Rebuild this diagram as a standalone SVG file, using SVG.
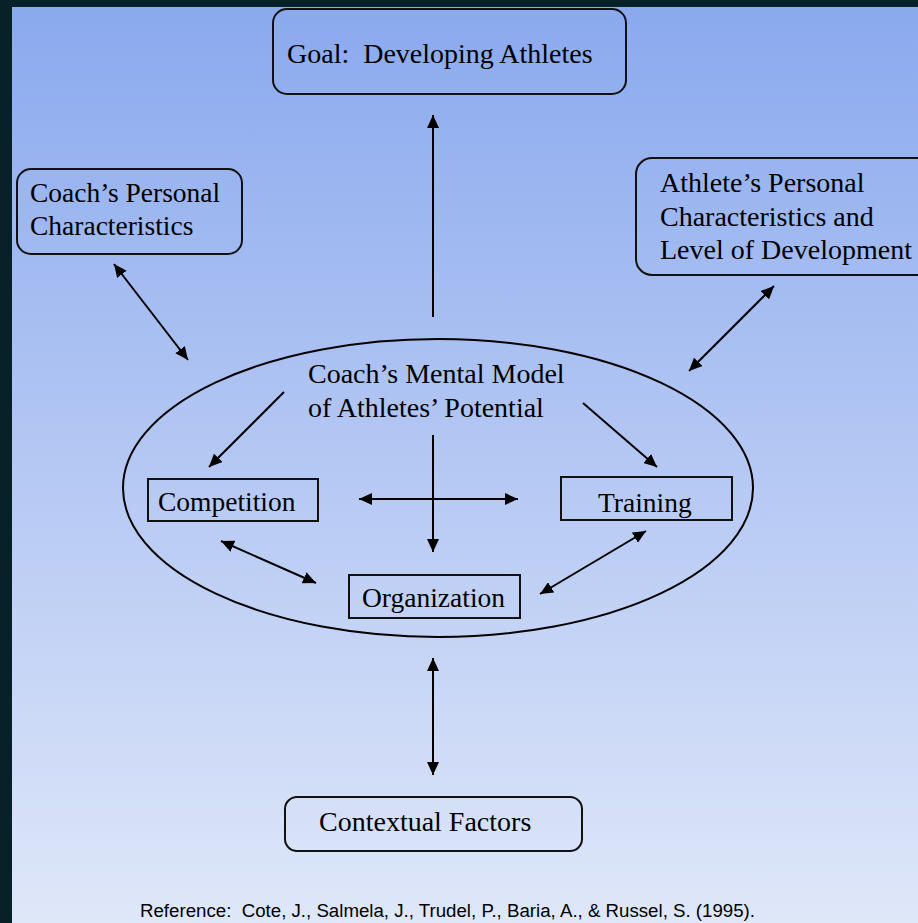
<svg xmlns="http://www.w3.org/2000/svg" width="918" height="923" viewBox="0 0 918 923">
<defs>
<linearGradient id="bg" x1="0" y1="7" x2="0" y2="923" gradientUnits="userSpaceOnUse">
<stop offset="0" stop-color="#8aa9ee"/>
<stop offset="1" stop-color="#dfe7f9"/>
</linearGradient>
<marker id="ah" markerWidth="14" markerHeight="12" refX="13" refY="6" orient="auto-start-reverse" markerUnits="userSpaceOnUse">
<path d="M0,0 L13,6 L0,12 Z" fill="#000"/>
</marker>
<style>
.t{font-family:"Liberation Serif","Times New Roman",serif;font-size:27.5px;fill:#000;white-space:pre}
.t28{font-size:28px}
.rb{fill:none;stroke:#111;stroke-width:2}
.bx{fill:none;stroke:#111;stroke-width:2}
.c{fill:none;stroke:#000;stroke-width:2}
.ref{font-family:"Liberation Sans",Arial,sans-serif;font-size:18px;fill:#000;white-space:pre}
</style>
</defs>
<rect x="0" y="0" width="918" height="923" fill="#062228"/>
<rect x="12" y="7" width="906" height="916" fill="url(#bg)"/>

<g id="goal">
<rect class="rb" x="273" y="9" width="353" height="85" rx="14"/>
<text class="t t28" x="287" y="63">Goal:  Developing Athletes</text>
</g>
<g id="coach">
<rect class="rb" x="17" y="169" width="225" height="85" rx="14"/>
<text class="t" x="30" y="202">Coach’s Personal</text>
<text class="t" x="30" y="235">Characteristics</text>
</g>
<g id="athlete">
<rect class="rb" x="636" y="158" width="300" height="117" rx="16"/>
<text class="t t28" x="660" y="192">Athlete’s Personal</text>
<text class="t t28" x="660" y="226">Characteristics and</text>
<text class="t t28" x="660" y="259">Level of Development</text>
</g>
<g id="mental-model">
<ellipse class="c" cx="438" cy="488" rx="315" ry="149"/>
<text class="t t28" x="308" y="383">Coach’s Mental Model</text>
<text class="t t28" x="308" y="417">of Athletes’ Potential</text>
</g>
<g id="competition">
<rect class="bx" x="148" y="479" width="170" height="42"/>
<text class="t" x="158" y="511">Competition</text>
</g>
<g id="training">
<rect class="bx" x="561" y="477" width="171" height="43"/>
<text class="t" x="598" y="512">Training</text>
</g>
<g id="organization">
<rect class="bx" x="349" y="575" width="171" height="43"/>
<text class="t" x="362" y="607">Organization</text>
</g>
<g id="contextual">
<rect class="rb" x="285" y="797" width="297" height="54" rx="12"/>
<text class="t t28" x="319" y="831">Contextual Factors</text>
</g>

<g id="connectors">
<line class="c" x1="433" y1="317" x2="433" y2="115" marker-end="url(#ah)"/>
<line class="c" x1="114" y1="264" x2="188" y2="360" marker-start="url(#ah)" marker-end="url(#ah)"/>
<line class="c" x1="774" y1="286" x2="689" y2="371" marker-start="url(#ah)" marker-end="url(#ah)"/>
<line class="c" x1="284" y1="392" x2="209" y2="467" marker-end="url(#ah)"/>
<line class="c" x1="583" y1="403" x2="657" y2="467" marker-end="url(#ah)"/>
<line class="c" x1="359" y1="499" x2="518" y2="499" marker-start="url(#ah)" marker-end="url(#ah)"/>
<line class="c" x1="433" y1="435" x2="433" y2="552" marker-end="url(#ah)"/>
<line class="c" x1="221" y1="541" x2="316" y2="583" marker-start="url(#ah)" marker-end="url(#ah)"/>
<line class="c" x1="646" y1="531" x2="540" y2="594" marker-start="url(#ah)" marker-end="url(#ah)"/>
<line class="c" x1="433" y1="658" x2="433" y2="775" marker-start="url(#ah)" marker-end="url(#ah)"/>
</g>

<text class="ref" x="140" y="917" textLength="615" lengthAdjust="spacingAndGlyphs">Reference:  Cote, J., Salmela, J., Trudel, P., Baria, A., &amp; Russel, S. (1995).</text>
</svg>
